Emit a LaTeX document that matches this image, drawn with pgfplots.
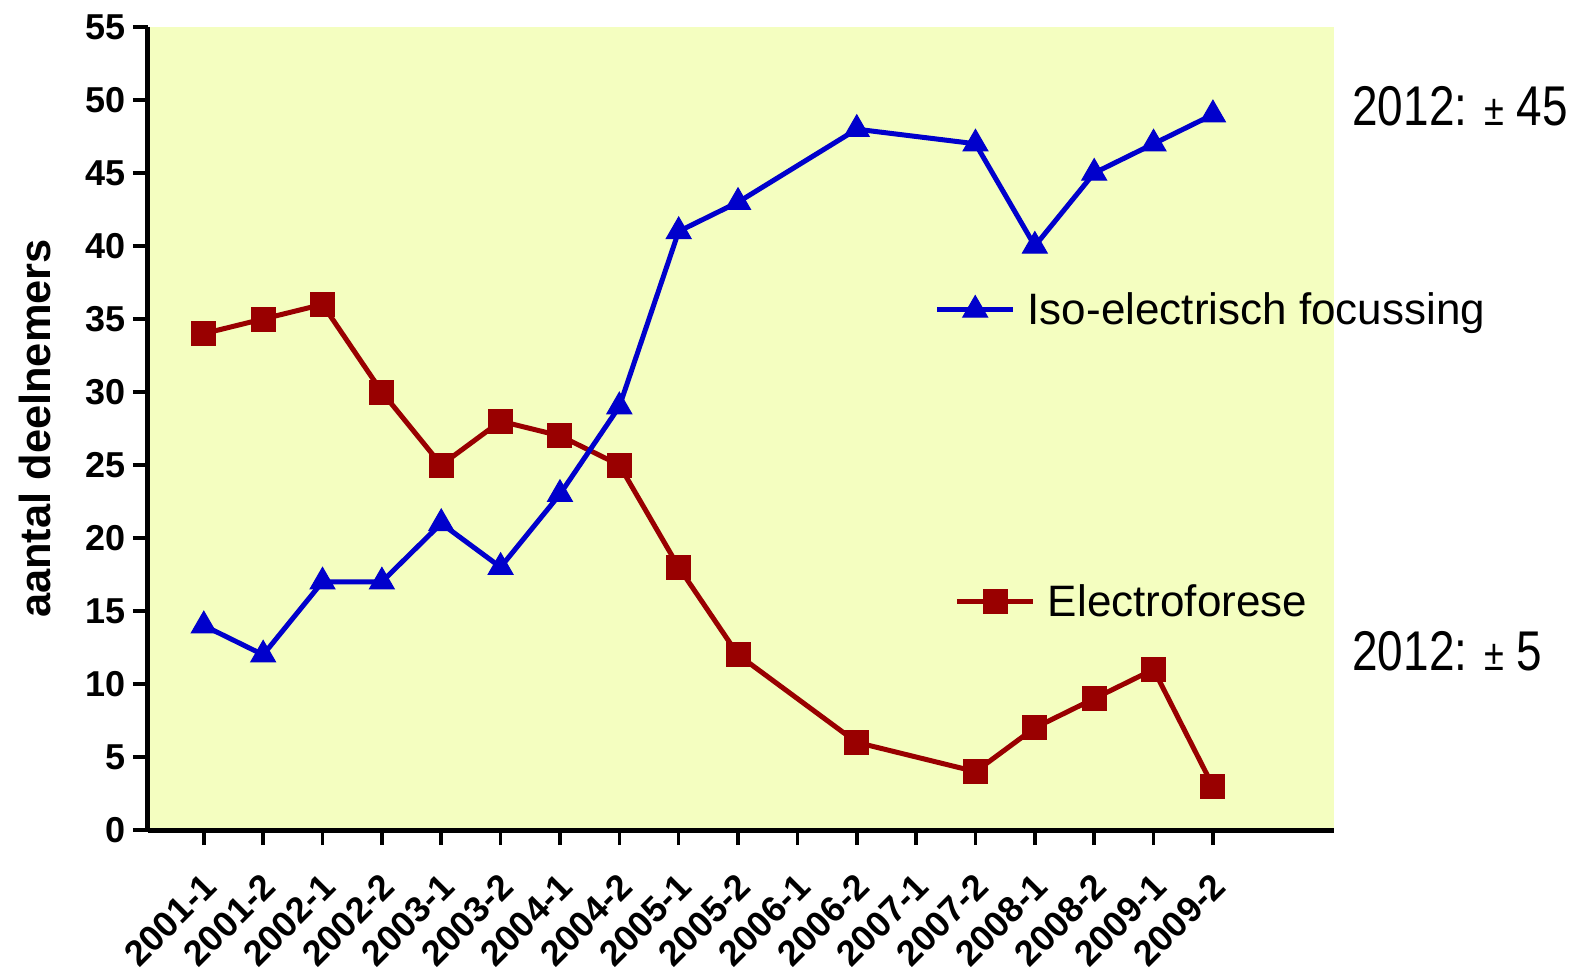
\documentclass[border=0pt]{standalone}
\usepackage{fontspec}
\setmainfont{Liberation Sans}
\newfontfamily\condfont[FakeStretch=0.82]{Liberation Sans}
\usepackage{pgfplots}
\pgfplotsset{compat=1.18}
\definecolor{bgyellow}{RGB}{244,254,192}
\definecolor{myred}{RGB}{153,0,0}
\definecolor{myblue}{RGB}{0,0,204}
\pgfplotsset{
  common/.style={
    at={(74pt,72.5pt)}, anchor=south west,
    scale only axis, width=593pt, height=401.5pt,
    xmin=-0.94, xmax=19.04, ymin=0, ymax=55,
    clip=false,
  },
}
\begin{document}
\begin{tikzpicture}
\useasboundingbox (0,0) rectangle (791pt,487.5pt);
\begin{axis}[common,
  axis background/.style={fill=bgyellow},
  axis lines*=left,
  axis line style={line width=2.5pt, black},
  tick style={line width=1.8pt, black},
  tick align=outside,
  major tick length=7.5pt,
  xtick={0,1,...,17},
  xticklabels={2001-1,2001-2,2002-1,2002-2,2003-1,2003-2,2004-1,2004-2,2005-1,2005-2,2006-1,2006-2,2007-1,2007-2,2008-1,2008-2,2009-1,2009-2},
  ytick={0,5,...,55},
  x tick label style={rotate=45, anchor=north east, inner sep=1pt, xshift=-9.1pt, yshift=-7.1pt, font=\bfseries\fontsize{18}{21}\selectfont},
  y tick label style={font=\bfseries\fontsize{18}{21}\selectfont},
  /pgf/number format/assume math mode=true,
  ylabel={aantal deelnemers},
  ylabel style={at={(axis description cs:-0.0953,0.5)}, anchor=center, font=\bfseries\fontsize{21.7}{26}\selectfont},
  legend style={draw=none, fill=none, inner sep=0pt, at={(axis description cs:0.680,0.284)}, anchor=west,
    font=\fontsize{22}{26}\selectfont},
  legend cell align=left,
  legend image code/.code={\draw[mark repeat=2,mark phase=2,#1] plot coordinates {(0pt,0pt) (19pt,0pt) (38pt,0pt)}; \path (42pt,0pt);},
]
\addplot[myred, line width=2.5pt, mark=square*, mark size=6pt, mark options={solid, line width=0.5pt}] coordinates {
(0,34) (1,35) (2,36) (3,30) (4,25) (5,28) (6,27) (7,25) (8,18) (9,12)
(11,6) (13,4) (14,7) (15,9) (16,11) (17,3)};
\addlegendentry{Electroforese}
\node[anchor=west, inner sep=0pt, font=\condfont\fontsize{28}{32}\selectfont] at (axis description cs:1.0152,0.9016) {2012: {\fontsize{22}{24}\selectfont ±} 45};
\node[anchor=west, inner sep=0pt, font=\condfont\fontsize{28}{32}\selectfont] at (axis description cs:1.0152,0.2229) {2012: {\fontsize{22}{24}\selectfont ±} 5};
\end{axis}
\begin{axis}[common, hide axis,
  legend style={draw=none, fill=none, inner sep=0pt, at={(axis description cs:0.663,0.6476)}, anchor=west,
    font=\fontsize{22}{26}\selectfont},
  legend cell align=left,
  legend image code/.code={\draw[mark repeat=2,mark phase=2,#1] plot coordinates {(0pt,0pt) (19pt,0pt) (38pt,0pt)}; \path (42pt,0pt);},
]
\addplot[myblue, line width=2.5pt, mark=triangle*, mark size=7.2pt, mark options={solid, line width=0.5pt}] coordinates {
(0,14) (1,12) (2,17) (3,17) (4,21) (5,18) (6,23) (7,29) (8,41) (9,43)
(11,48) (13,47) (14,40) (15,45) (16,47) (17,49)};
\addlegendentry{Iso-electrisch focussing}
\end{axis}
\end{tikzpicture}
\end{document}
